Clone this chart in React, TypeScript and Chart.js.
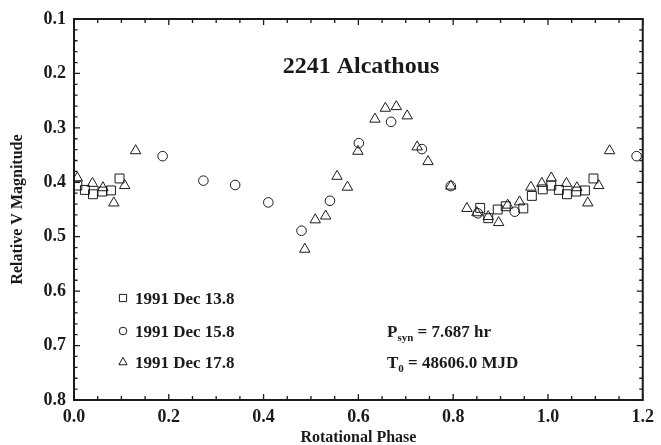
import React, { useEffect, useRef } from "react";
import { Chart, registerables } from "chart.js";

Chart.register(...registerables);

// 1991 Dec 13.8 (squares)
const squarePhase = [0.007, 0.023, 0.040, 0.060, 0.078, 0.096, 0.857, 0.874, 0.894, 0.911, 0.948, 0.966, 0.989, 1.007, 1.023, 1.040, 1.060, 1.078, 1.096];
const squareMag = [0.406, 0.414, 0.422, 0.417, 0.415, 0.393, 0.447, 0.466, 0.450, 0.444, 0.448, 0.425, 0.413, 0.406, 0.414, 0.422, 0.417, 0.415, 0.393];

// 1991 Dec 15.8 (circles)
const circlePhase = [0.187, 0.273, 0.340, 0.410, 0.480, 0.540, 0.601, 0.669, 0.734, 0.795, 0.852, 0.930, 1.187];
const circleMag = [0.352, 0.397, 0.405, 0.437, 0.489, 0.434, 0.328, 0.289, 0.339, 0.407, 0.457, 0.454, 0.352];

// 1991 Dec 17.8 (triangles)
const trianglePhase = [0.007, 0.039, 0.061, 0.084, 0.107, 0.130, 0.487, 0.509, 0.531, 0.555, 0.577, 0.599, 0.635, 0.657, 0.680, 0.703, 0.724, 0.747, 0.795, 0.829, 0.850, 0.874, 0.896, 0.915, 0.940, 0.964, 0.987, 1.007, 1.039, 1.061, 1.084, 1.107, 1.130];
const triangleMag = [0.392, 0.402, 0.410, 0.438, 0.406, 0.342, 0.523, 0.469, 0.462, 0.389, 0.409, 0.343, 0.284, 0.264, 0.261, 0.278, 0.335, 0.362, 0.407, 0.448, 0.456, 0.463, 0.474, 0.442, 0.436, 0.409, 0.402, 0.392, 0.402, 0.410, 0.438, 0.406, 0.342];

const seriesLabels = ["1991 Dec 13.8", "1991 Dec 15.8", "1991 Dec 17.8"];
const xTickValues = [0, 0.2, 0.4, 0.6, 0.8, 1.0, 1.2];
const yTickValues = [0.1, 0.2, 0.3, 0.4, 0.5, 0.6, 0.7, 0.8];
const chartTitle = "2241 Alcathous";

const FONT = "'Liberation Serif', 'Times New Roman', serif";
const INK = "#1a1a1a";

function pts(xs: number[], ys: number[]) {
  return xs.map((x, i) => ({ x, y: ys[i] }));
}

function drawMarker(ctx: CanvasRenderingContext2D, kind: string, x: number, y: number, s: number) {
  ctx.beginPath();
  if (kind === "rect") {
    ctx.rect(x - s, y - s, 2 * s, 2 * s);
  } else if (kind === "circle") {
    ctx.arc(x, y, s, 0, Math.PI * 2);
  } else {
    ctx.moveTo(x, y - s);
    ctx.lineTo(x + s * 0.9, y + s * 0.6);
    ctx.lineTo(x - s * 0.9, y + s * 0.6);
    ctx.closePath();
  }
  ctx.stroke();
}

export default function App() {
  const ref = useRef<HTMLCanvasElement>(null);

  useEffect(() => {
    const frame = {
      id: "frame",
      afterDraw(chart: any) {
        const ctx: CanvasRenderingContext2D = chart.ctx;
        const a = chart.chartArea;
        const xs = chart.scales.x;
        const ys = chart.scales.y;
        ctx.save();
        ctx.strokeStyle = INK;
        ctx.lineWidth = 2;
        ctx.strokeRect(a.left, a.top, a.right - a.left, a.bottom - a.top);
        ctx.lineWidth = 1.3;
        ctx.beginPath();
        for (let i = 0; i <= 24; i++) {
          const v = i * 0.05;
          const px = xs.getPixelForValue(v);
          const len = i % 4 === 0 ? 6 : 4;
          ctx.moveTo(px, a.bottom);
          ctx.lineTo(px, a.bottom - len);
          ctx.moveTo(px, a.top);
          ctx.lineTo(px, a.top + len);
        }
        for (let i = 0; i <= 35; i++) {
          const v = 0.1 + i * 0.02;
          const py = ys.getPixelForValue(v);
          const len = i % 5 === 0 ? 6 : 3.5;
          ctx.moveTo(a.left, py);
          ctx.lineTo(a.left + len, py);
          ctx.moveTo(a.right, py);
          ctx.lineTo(a.right - len, py);
        }
        ctx.stroke();

        ctx.fillStyle = INK;
        ctx.textAlign = "center";
        ctx.textBaseline = "alphabetic";
        ctx.font = `bold 24px ${FONT}`;
        ctx.fillText(chartTitle, 361, 73);

        // legend
        const kinds = ["rect", "circle", "triangle"];
        const rows = [304, 337, 368];
        ctx.textAlign = "left";
        ctx.lineWidth = 1;
        kinds.forEach((k, i) => {
          const cy = rows[i] - 6;
          drawMarker(ctx, k, 123, cy, k === "rect" ? 3.6 : k === "circle" ? 3.8 : 4.6);
          ctx.font = `bold 17px ${FONT}`;
          ctx.fillText(seriesLabels[i], 135, rows[i]);
        });

        // period and epoch
        const drawSub = (main: string, sub: string, rest: string, x: number, y: number) => {
          ctx.font = `bold 17px ${FONT}`;
          ctx.fillText(main, x, y);
          let cx = x + ctx.measureText(main).width;
          ctx.font = `bold 11px ${FONT}`;
          ctx.fillText(sub, cx, y + 4);
          cx += ctx.measureText(sub).width;
          ctx.font = `bold 17px ${FONT}`;
          ctx.fillText(rest, cx, y);
        };
        drawSub("P", "syn", " = 7.687 hr", 387, 337);
        drawSub("T", "0", " = 48606.0 MJD", 387, 368);
        ctx.restore();
      },
    };

    const common = {
      borderColor: INK,
      backgroundColor: "rgba(0,0,0,0)",
      borderWidth: 1,
      showLine: false,
    };

    const chart = new Chart(ref.current as HTMLCanvasElement, {
      type: "scatter",
      data: {
        datasets: [
          { ...common, label: seriesLabels[0], data: pts(squarePhase, squareMag), pointStyle: "rect", pointRadius: 6.3 },
          { ...common, label: seriesLabels[1], data: pts(circlePhase, circleMag), pointStyle: "circle", pointRadius: 4.8 },
          { ...common, label: seriesLabels[2], data: pts(trianglePhase, triangleMag), pointStyle: "triangle", pointRadius: 6 },
        ],
      },
      options: {
        animation: false,
        responsive: false,
        devicePixelRatio: 1,
        events: [],
        layout: { padding: { top: 19, right: 15, left: 0, bottom: 0 }, autoPadding: false },
        plugins: { legend: { display: false }, tooltip: { enabled: false }, title: { display: false } },
        scales: {
          x: {
            type: "linear",
            min: 0,
            max: 1.2,
            afterBuildTicks: (s: any) => {
              s.ticks = xTickValues.map((v) => ({ value: v }));
            },
            ticks: {
              callback: (v: any) => Number(v).toFixed(1),
              font: { family: FONT, size: 18, weight: "bold" },
              color: INK,
              padding: 7,
              maxRotation: 0,
              autoSkip: false,
            },
            grid: { display: false, drawTicks: false },
            border: { display: false },
            title: {
              display: true,
              text: "Rotational Phase",
              font: { family: FONT, size: 16, weight: "bold" },
              color: INK,
              padding: { top: 0, bottom: -2 },
            },
            afterFit: (s: any) => {
              s.height = 45;
            },
          },
          y: {
            type: "linear",
            reverse: true,
            min: 0.1,
            max: 0.8,
            afterBuildTicks: (s: any) => {
              s.ticks = yTickValues.map((v) => ({ value: v }));
            },
            ticks: {
              callback: (v: any) => Number(v).toFixed(1),
              font: { family: FONT, size: 18, weight: "bold" },
              color: INK,
              padding: 8,
              autoSkip: false,
            },
            grid: { display: false, drawTicks: false },
            border: { display: false },
            title: {
              display: true,
              text: "Relative V Magnitude",
              font: { family: FONT, size: 16, weight: "bold" },
              color: INK,
              padding: { top: 8, bottom: 0 },
            },
            afterFit: (s: any) => {
              s.width = 74;
            },
          },
        },
      } as any,
      plugins: [frame],
    });
    return () => chart.destroy();
  }, []);

  return (
    <div style={{ position: "fixed", left: 0, top: 0, width: 661, height: 445, background: "#fff" }}>
      <canvas ref={ref} width={661} height={445} style={{ display: "block", width: 661, height: 445 }} />
    </div>
  );
}
